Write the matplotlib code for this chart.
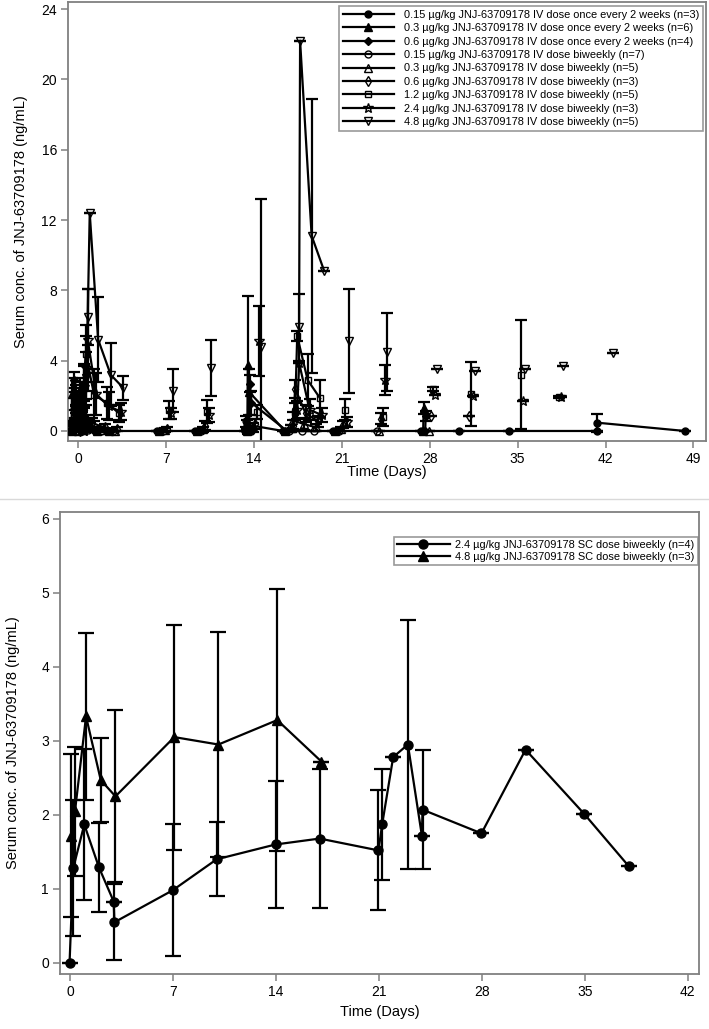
import numpy as np
import matplotlib
matplotlib.use("Agg")
import matplotlib.pyplot as plt
from matplotlib.lines import Line2D

plt.rcParams['font.family'] = ['Liberation Sans', 'DejaVu Sans']

nan = np.nan

# ------------------------------------------------------------------
# Top panel: IV cohorts (nominal time in days, mean, SD; NaN = line break)
# ------------------------------------------------------------------
iv_labels = [
    "0.15 \u00b5g/kg JNJ-63709178 IV dose once every 2 weeks (n=3)",
    "0.3 \u00b5g/kg JNJ-63709178 IV dose once every 2 weeks (n=6)",
    "0.6 \u00b5g/kg JNJ-63709178 IV dose once every 2 weeks (n=4)",
    "0.15 \u00b5g/kg JNJ-63709178 IV dose biweekly (n=7)",
    "0.3 \u00b5g/kg JNJ-63709178 IV dose biweekly (n=5)",
    "0.6 \u00b5g/kg JNJ-63709178 IV dose biweekly (n=3)",
    "1.2 \u00b5g/kg JNJ-63709178 IV dose biweekly (n=5)",
    "2.4 \u00b5g/kg JNJ-63709178 IV dose biweekly (n=3)",
    "4.8 \u00b5g/kg JNJ-63709178 IV dose biweekly (n=5)",
]

iv1_t = [0, 0.04, 0.17, 0.33, 1, 2, 3, 7, 10, 14, 14.04, 14.17, 17, 21, 28, 31, 35, 42, 42.04, 49]
iv1_y = [0, 0.45, 0.3, 0.15, 0, 0, 0, 0, 0, 0, 0.55, 0.35, 0, 0, 0, 0, 0, 0, 0.47, 0]
iv1_sd = [0, 0.3, 0.25, 0.15, 0, 0, 0, 0, 0, 0, 0.3, 0.25, 0, 0, 0, 0, 0, 0, 0.5, 0]

iv2_t = [0, 0.04, 0.17, 0.33, 1, 2, 3, nan, 7, nan, 10, nan, 14, 14.04, 14.17, 17, nan, 21, nan, 28, 28.04]
iv2_y = [0, 2.1, 1.4, 0.9, 0.25, 0, 0, nan, 0, nan, 0, nan, 0, 3.75, 2.2, 0, nan, 0, nan, 0, 1.3]
iv2_sd = [0, 0.9, 0.8, 0.6, 0.3, 0, 0, nan, 0, nan, 0, nan, 0, 3.95, 1.3, 0, nan, 0, nan, 0, 0.35]

iv3_t = [0, 0.04, 0.17, 0.33, 1, 2, 3, nan, 7, nan, 10, nan, 14, 14.04, 14.17, 17, nan, 21, nan, 28, 28.04]
iv3_y = [0, 2.9, 2.0, 1.4, 0.5, 0.1, 0, nan, 0, nan, 0, nan, 0, 2.7, 1.6, 0, nan, 0, nan, 0, 0.85]
iv3_sd = [0, 0.45, 0.6, 0.5, 0.4, 0.15, 0, nan, 0, nan, 0, nan, 0, 0.5, 0.7, 0, nan, 0, nan, 0, 0.3]

iv4_t = [0, 0.04, 0.17, 0.33, 1, 2, 3, nan, 7, nan, 10, nan, 14, nan, 17, 17.17, 18, 19, nan, 21, nan, 24]
iv4_y = [0, 0.6, 0.4, 0.25, 0.05, 0, 0, nan, 0, nan, 0, nan, 0, nan, 0, 0.15, 0, 0, nan, 0, nan, 0]
iv4_sd = [0, 0.4, 0.3, 0.25, 0.1, 0, 0, nan, 0, nan, 0, nan, 0, nan, 0, 0.2, 0, 0, nan, 0, nan, 0]

iv5_t = [0, 0.04, 0.17, 0.33, 1, 2, 3, nan, 7, nan, 10, nan, 14, nan, 17, 17.17, 18, 19, nan, 21, nan, 24, nan, 28]
iv5_y = [0, 1.2, 0.9, 0.7, 0.2, 0.05, 0, nan, 0.05, nan, 0.1, nan, 0.2, nan, 0.15, 0.6, 0.4, 0.2, nan, 0.1, nan, 0, nan, 0]
iv5_sd = [0, 0.7, 0.5, 0.5, 0.25, 0.1, 0, nan, 0.1, nan, 0.15, nan, 0.25, nan, 0.2, 0.5, 0.35, 0.2, nan, 0.1, nan, 0, nan, 0]

iv6_t = [0, 0.04, 0.17, 0.33, 1, 2, 3, nan, 7, nan, 10, nan, 14, nan, 17, 17.17, 18, 19, nan, 21, nan, 24, nan, 28, nan, 31]
iv6_y = [0, 2.3, 1.7, 1.2, 0.45, 0.2, 0.1, nan, 0.1, nan, 0.3, nan, 0.4, nan, 0.3, 2.4, 1.0, 0.55, nan, 0.35, nan, 0.7, nan, 0.85, nan, 0.85]
iv6_sd = [0, 0.7, 0.6, 0.5, 0.3, 0.2, 0.1, nan, 0.1, nan, 0.25, nan, 0.3, nan, 0.3, 0.5, 0.5, 0.3, nan, 0.2, nan, 0.3, nan, 0, nan, 0]

iv7_t = [0, 0.04, 0.17, 0.33, 1, 2, 3, nan, 7, nan, 10, nan, 14, nan, 17, 17.17, 18, 19, nan, 21, nan, 24, nan, 28, nan, 31, nan, 35, nan, 38]
iv7_y = [0, 1.8, 2.6, 4.4, 2.05, 1.6, 1.0, nan, 1.2, nan, 1.1, nan, 1.1, nan, 1.1, 5.4, 2.9, 1.85, nan, 1.2, nan, 0.8, nan, 2.4, nan, 2.1, nan, 3.2, nan, 1.95]
iv7_sd = [0, 1.0, 1.2, 1.6, 1.5, 0.9, 0.5, nan, 0.5, nan, 0.65, nan, 0.4, nan, 0.5, 0.3, 1.5, 1.05, nan, 0.6, nan, 0.5, nan, 0.1, nan, 1.8, nan, 3.1, nan, 0.05]

iv8_t = [0, 0.04, 0.17, 0.33, 1, 2, 3, nan, 7, nan, 10, nan, 14, nan, 17, 17.17, 18, 19, nan, 21, nan, 24, nan, 28, nan, 31, nan, 35, nan, 38]
iv8_y = [0, 2.5, 3.6, 5.2, 2.1, 1.4, 1.1, nan, 1.0, nan, 0.9, nan, 5.1, nan, 1.2, 3.85, 1.2, 0.9, nan, 0.5, nan, 2.9, nan, 2.05, nan, 2.0, nan, 1.7, nan, 1.95]
iv8_sd = [0, 1.2, 1.8, 2.9, 1.2, 0.8, 0.5, nan, 0.3, nan, 0.4, nan, 2.0, nan, 0.5, 0, 0.6, 0.4, nan, 0.3, nan, 0.85, nan, 0, nan, 0, nan, 0, nan, 0]

iv9_t = [0, 0.04, 0.17, 0.33, 1, 2, 3, nan, 7, nan, 10, nan, 14, nan, 17, 17.08, 18, 19, nan, 21, nan, 24, nan, 28, nan, 31, nan, 35, nan, 38, nan, 42]
iv9_y = [0, 3.0, 6.5, 12.4, 5.2, 3.2, 2.45, nan, 2.3, nan, 3.6, nan, 4.8, nan, 5.9, 22.2, 11.1, 9.1, nan, 5.1, nan, 4.5, nan, 3.55, nan, 3.4, nan, 3.5, nan, 3.7, nan, 4.45]
iv9_sd = [0, 1.5, 1.6, 0, 2.4, 1.8, 0.7, nan, 1.2, nan, 1.6, nan, 8.4, nan, 1.9, 0, 7.8, 0, nan, 2.95, nan, 2.2, nan, 0, nan, 0, nan, 0, nan, 0, nan, 0]

iv_xticks = [0, 7, 14, 21, 28, 35, 42, 49]
iv_yticks = [0, 4, 8, 12, 16, 20, 24]

# ------------------------------------------------------------------
# Bottom panel: SC cohorts
# ------------------------------------------------------------------
sc_labels = [
    "2.4 \u00b5g/kg JNJ-63709178 SC dose biweekly (n=4)",
    "4.8 \u00b5g/kg JNJ-63709178 SC dose biweekly (n=3)",
]
sc1_t = [0, 0.25, 1, 2, 3, 3.05, 7, 10, 14, 17, 21, 21.25, 22, 23, 23.95, 24, 28, 31, 35, 38]
sc1_y = [0, 1.28, 1.87, 1.29, 0.83, 0.55, 0.98, 1.40, 1.60, 1.68, 1.52, 1.87, 2.78, 2.95, 1.72, 2.07, 1.75, 2.88, 2.01, 1.31]
sc1_sd = [0, 0.92, 1.02, 0.6, 0, 0.51, 0.89, 0.5, 0.86, 0.94, 0.81, 0.75, 0, 1.68, 0, 0.8, 0, 0, 0, 0]

sc2_t = [0, 0.25, 1, 2, 3, 7, 10, 14, 17]
sc2_y = [1.72, 2.05, 3.33, 2.47, 2.25, 3.05, 2.95, 3.28, 2.72]
sc2_sd = [1.1, 0.87, 1.13, 0.57, 1.16, 1.52, 1.52, 1.77, 0]

sc_xticks = [0, 7, 14, 21, 28, 35, 42]
sc_yticks = [0, 1, 2, 3, 4, 5, 6]

# ------------------------------------------------------------------
# Styles
# ------------------------------------------------------------------
iv_series = [(iv1_t, iv1_y, iv1_sd), (iv2_t, iv2_y, iv2_sd), (iv3_t, iv3_y, iv3_sd),
             (iv4_t, iv4_y, iv4_sd), (iv5_t, iv5_y, iv5_sd), (iv6_t, iv6_y, iv6_sd),
             (iv7_t, iv7_y, iv7_sd), (iv8_t, iv8_y, iv8_sd), (iv9_t, iv9_y, iv9_sd)]
iv_markers = ['o', '^', 'D', 'o', '^', 'd', 's', '*', 'v']
iv_filled = [True, True, True, False, False, False, False, False, False]
iv_msize = [5, 5.5, 4.2, 5, 5.5, 5.5, 5, 7, 5.5]
iv_dodge = [-0.68, -0.52, -0.36, -0.2, -0.04, 0.12, 0.28, 0.44, 0.6]

sc_series = [(sc1_t, sc1_y, sc1_sd), (sc2_t, sc2_y, sc2_sd)]
sc_markers = ['o', '^']
sc_dodge = [-0.03, 0.09]

SPINE = '#808080'

fig = plt.figure(figsize=(7.09, 10.29), dpi=100)


def style_axes(ax):
    for s in ax.spines.values():
        s.set_color(SPINE)
        s.set_linewidth(1.3)
    ax.tick_params(axis='both', which='major', direction='out', length=5,
                   width=1.1, color=SPINE, labelsize=10, labelcolor='black', pad=3)


def draw_series(ax, t, y, sd, dx, marker, filled, ms, capsize, lw):
    t = np.asarray(t, float)
    y = np.asarray(y, float)
    sd = np.asarray(sd, float)
    x = t + dx
    ok = ~np.isnan(y)
    ax.errorbar(x[ok], y[ok], yerr=sd[ok], fmt='none', ecolor='black',
                elinewidth=lw, capsize=capsize, capthick=lw, zorder=2)
    ax.plot(x, y, '-', color='black', lw=lw, zorder=3)
    ax.plot(x[ok], y[ok], linestyle='none', marker=marker, ms=ms,
            mfc='black' if filled else 'none', mec='black', mew=1.0, zorder=4)


# ---------------- Top axes ----------------
ax1 = fig.add_axes([68 / 709, 1 - 441 / 1029, (706 - 68) / 709, (441 - 2) / 1029])
for i, (t, y, sd) in enumerate(iv_series):
    draw_series(ax1, t, y, sd, iv_dodge[i], iv_markers[i], iv_filled[i], iv_msize[i], 4.5, 1.6)
ax1.set_xlim(-0.8, 50.0)
ax1.set_ylim(-0.57, 24.4)
ax1.set_xticks(iv_xticks)
ax1.set_yticks(iv_yticks)
style_axes(ax1)
ax1.set_xlabel("Time (Days)", fontsize=10.5)
ax1.set_ylabel("Serum conc. of JNJ-63709178 (ng/mL)", fontsize=10.5)
ax1.yaxis.set_label_coords(-0.062, 0.5)
ax1.xaxis.set_label_coords(0.5, -0.055)

h1 = [Line2D([], [], color='black', lw=1.6, marker=iv_markers[i], ms=iv_msize[i],
             mfc='black' if iv_filled[i] else 'none', mec='black', mew=1.0)
      for i in range(len(iv_labels))]
leg1 = ax1.legend(h1, iv_labels, loc='upper right', bbox_to_anchor=(0.9953, 0.991),
                  fontsize=7.9, frameon=True, fancybox=False, edgecolor=SPINE,
                  handlelength=4.65, handletextpad=0.9, labelspacing=0.31,
                  borderpad=0.35, borderaxespad=0.0, numpoints=1)
leg1.get_frame().set_linewidth(1.2)

# ---------------- Bottom axes ----------------
ax2 = fig.add_axes([60 / 709, 1 - 974 / 1029, (699 - 60) / 709, (974 - 512) / 1029])
for i, (t, y, sd) in enumerate(sc_series):
    draw_series(ax2, t, y, sd, sc_dodge[i], sc_markers[i], True, 6.5, 5.5, 1.6)
ax2.set_xlim(-0.68, 42.76)
ax2.set_ylim(-0.149, 6.09)
ax2.set_xticks(sc_xticks)
ax2.set_yticks(sc_yticks)
style_axes(ax2)
ax2.set_xlabel("Time (Days)", fontsize=10.5)
ax2.set_ylabel("Serum conc. of JNJ-63709178 (ng/mL)", fontsize=10.5)
ax2.yaxis.set_label_coords(-0.062, 0.5)
ax2.xaxis.set_label_coords(0.5, -0.068)

h2 = [Line2D([], [], color='black', lw=1.6, marker=sc_markers[i], ms=6.5,
             mfc='black', mec='black') for i in range(len(sc_labels))]
leg2 = ax2.legend(h2, sc_labels, loc='upper right', bbox_to_anchor=(0.9984, 0.946),
                  fontsize=7.9, frameon=True, fancybox=False, edgecolor=SPINE,
                  handlelength=4.8, handletextpad=0.5, labelspacing=0.15,
                  borderpad=0.3, borderaxespad=0.0, numpoints=1)
leg2.get_frame().set_linewidth(1.2)

# separator between the two panels
fig.add_artist(Line2D([0, 1], [1 - 499 / 1029, 1 - 499 / 1029], color='#d9d9d9', lw=1.0,
                      transform=fig.transFigure))

fig.savefig("out.png", dpi=100)
